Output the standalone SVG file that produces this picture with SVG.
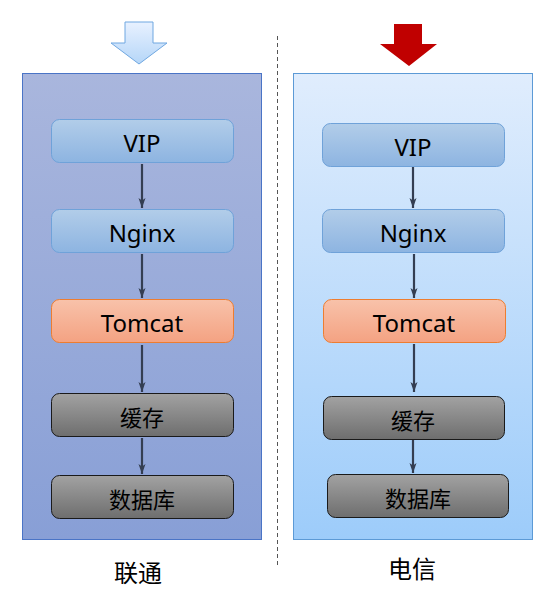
<svg xmlns="http://www.w3.org/2000/svg" width="555" height="609" viewBox="0 0 555 609">
<defs>
<linearGradient id="gL" x1="0" y1="0" x2="0" y2="1"><stop offset="0" stop-color="#a9b6dd"/><stop offset="1" stop-color="#889fd6"/></linearGradient>
<linearGradient id="gR" x1="0" y1="0" x2="0" y2="1"><stop offset="0" stop-color="#e0edfd"/><stop offset="1" stop-color="#9dccfa"/></linearGradient>
<linearGradient id="gBlue" x1="0" y1="0" x2="0" y2="1"><stop offset="0" stop-color="#b2cde9"/><stop offset="1" stop-color="#8db4e1"/></linearGradient>
<linearGradient id="gOr" x1="0" y1="0" x2="0" y2="1"><stop offset="0" stop-color="#f8c2aa"/><stop offset="1" stop-color="#f4a282"/></linearGradient>
<linearGradient id="gGray" x1="0" y1="0" x2="0" y2="1"><stop offset="0" stop-color="#a2a2a2"/><stop offset="1" stop-color="#6e6e6e"/></linearGradient>
<linearGradient id="gArr" x1="0" y1="0" x2="0" y2="1"><stop offset="0" stop-color="#e8f1ff"/><stop offset="1" stop-color="#b5d6f8"/></linearGradient>
<marker id="ah" viewBox="0 0 10 8" refX="10" refY="4" markerWidth="10" markerHeight="8" markerUnits="userSpaceOnUse" orient="auto">
<path d="M0,0.5 L10,4 L0,7.5 L2.5,4 Z" fill="#343e52"/>
</marker>
<style>
.blue{fill:url(#gBlue);stroke:#6fa2d9;stroke-width:1}
.tom{fill:url(#gOr);stroke:#ed7d31;stroke-width:1}
.gray{fill:url(#gGray);stroke:#1a1a1a;stroke-width:1}
.lat{font-family:"Noto Sans","Liberation Sans",sans-serif;font-size:24px;fill:#000;text-anchor:middle}
.cjk{font-family:"Noto Sans CJK SC",sans-serif;font-size:22px;fill:#000;text-anchor:middle}
.lab{font-family:"Noto Sans CJK SC",sans-serif;font-size:24px;fill:#000;text-anchor:middle}
.con{stroke:#343e52;stroke-width:2.2;fill:none;marker-end:url(#ah)}
</style>
</defs>
<rect width="555" height="609" fill="#fff"/>
<line x1="277.5" y1="36" x2="277.5" y2="566" stroke="#555" stroke-width="1" stroke-dasharray="4,3"/>
<g id="container-left">
<rect x="22.5" y="73.5" width="239" height="466" fill="url(#gL)" stroke="#4a74c6" stroke-width="1"/>
<path d="M125,22 H153 V43 H167 L139,64 L111,43 H125 Z" fill="url(#gArr)" stroke="#6fa7e1" stroke-width="1"/>
<text class="lab" x="138" y="582">联通</text>
</g>
<g id="container-right">
<rect x="293.5" y="73.5" width="239" height="466" fill="url(#gR)" stroke="#5c9ad6" stroke-width="1"/>
<path d="M394,24 H422 V44 H437 L409,66 L380,44 H394 Z" fill="#c00000"/>
<text class="lab" x="412" y="578">电信</text>
</g>
<g id="connectors">
<line class="con" x1="142" y1="164" x2="142" y2="208"/>
<line class="con" x1="142" y1="254" x2="142" y2="298"/>
<line class="con" x1="142" y1="345" x2="142" y2="392"/>
<line class="con" x1="142" y1="438" x2="142" y2="474"/>
<line class="con" x1="413" y1="167" x2="413" y2="208"/>
<line class="con" x1="414" y1="254" x2="414" y2="298"/>
<line class="con" x1="414" y1="344" x2="414" y2="392"/>
<line class="con" x1="413" y1="440" x2="413" y2="473"/>
</g>
<g id="vip-left"><rect class="blue" x="51.5" y="119.5" width="182" height="43" rx="8"/><text class="lat" x="142" y="152">VIP</text></g>
<g id="nginx-left"><rect class="blue" x="51.5" y="209.5" width="182" height="43" rx="8"/><text class="lat" x="142" y="242">Nginx</text></g>
<g id="tomcat-left"><rect class="tom" x="51.5" y="299.5" width="182" height="43" rx="8"/><text class="lat" x="142" y="332">Tomcat</text></g>
<g id="cache-left"><rect class="gray" x="51.5" y="393.5" width="182" height="43" rx="8"/><text class="cjk" x="142" y="426">缓存</text></g>
<g id="db-left"><rect class="gray" x="51.5" y="475.5" width="182" height="43" rx="8"/><text class="cjk" x="142" y="508">数据库</text></g>
<g id="vip-right"><rect class="blue" x="322.5" y="123.5" width="182" height="43" rx="8"/><text class="lat" x="413" y="156">VIP</text></g>
<g id="nginx-right"><rect class="blue" x="322.5" y="209.5" width="182" height="43" rx="8"/><text class="lat" x="413" y="242">Nginx</text></g>
<g id="tomcat-right"><rect class="tom" x="323.5" y="299.5" width="182" height="43" rx="8"/><text class="lat" x="414" y="332">Tomcat</text></g>
<g id="cache-right"><rect class="gray" x="323.5" y="396.5" width="181" height="43" rx="8"/><text class="cjk" x="413" y="429">缓存</text></g>
<g id="db-right"><rect class="gray" x="327.5" y="474.5" width="181" height="43" rx="8"/><text class="cjk" x="418" y="507">数据库</text></g>
</svg>
